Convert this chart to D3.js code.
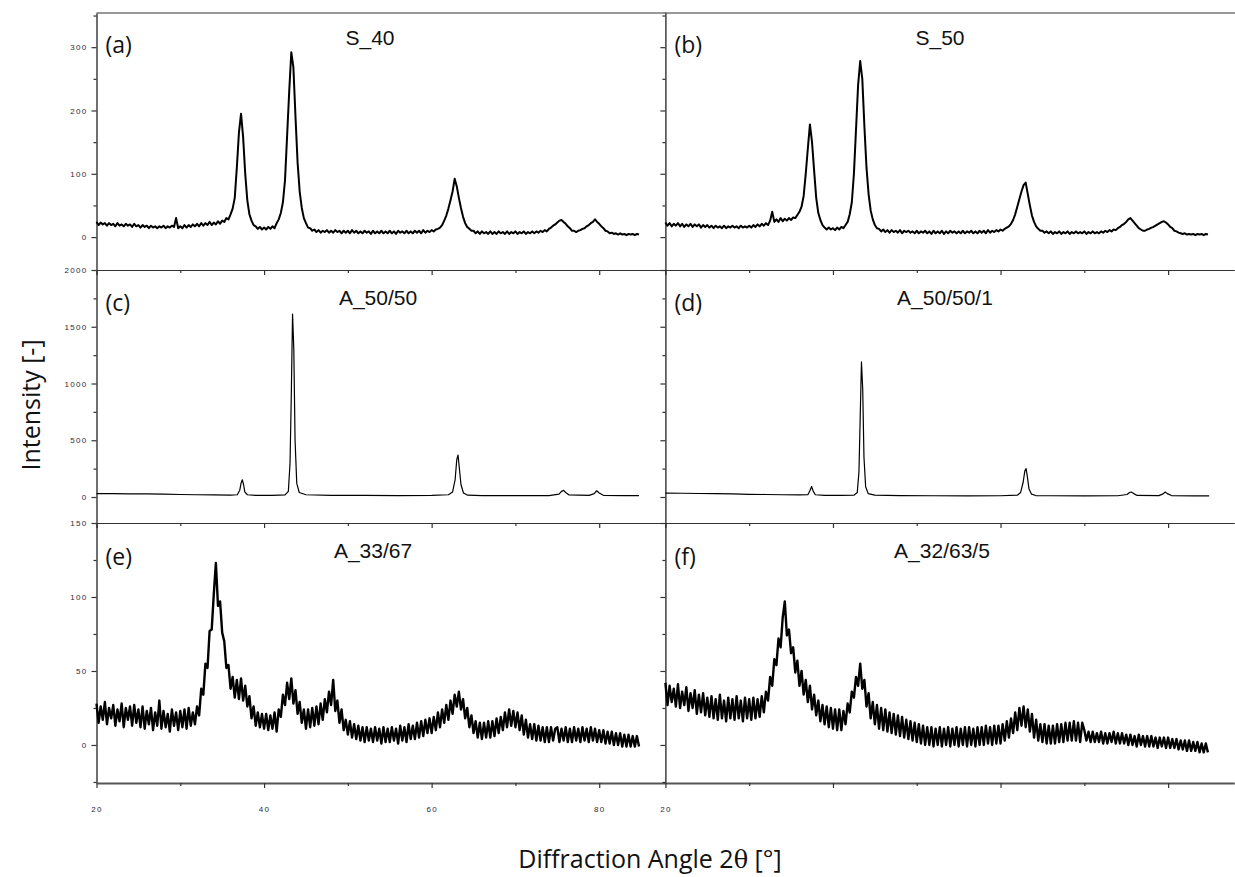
<!DOCTYPE html>
<html><head><meta charset="utf-8">
<script src="https://cdn.jsdelivr.net/npm/d3@7"></script>
<style>body{margin:0;background:#fff}</style>
</head><body><svg id="c" width="1235" height="877"></svg>
<script>
// ---------- data ----------
// uniform sampling of the noisy patterns: 20.00, 20.25, ... 84.75 deg
const angleStart = 20, angleStep = 0.25;

const S_40 = [
24,19,23,20,22,18,22,19,21,17,22,18,20,17,21,18,20,16,21,17,
19,15,19,16,18,14,18,15,17,14,17,15,18,14,17,15,18,16,30,14,
17,14,19,15,19,16,20,17,21,17,22,18,22,19,24,19,23,20,25,21,
26,24,30,28,36,45,62,110,165,195,158,100,58,36,26,19,17,13,16,12,
15,12,16,13,17,14,22,28,38,55,90,160,230,292,268,190,118,72,46,30,
22,15,14,10,12,8,11,7,10,8,11,7,10,7,11,8,10,6,10,7,
10,6,11,7,10,6,9,6,10,7,9,5,10,6,9,6,10,6,9,6,
10,6,9,5,10,7,9,6,10,6,9,6,10,7,10,6,11,7,10,8,
11,9,12,13,15,19,26,34,45,58,72,92,80,62,46,32,22,16,13,10,
10,6,9,5,9,6,8,5,9,5,8,5,9,6,8,5,9,5,8,6,
9,5,8,6,9,5,8,6,9,6,9,7,10,8,11,9,13,15,18,20,
23,26,27,24,21,17,14,10,10,8,10,11,13,14,17,19,22,24,28,24,
21,17,14,10,9,6,7,5,6,4,6,4,5,3,5,4,5,3,5,4];

const S_50 = [
23,18,22,17,21,18,22,17,21,16,20,17,21,16,20,17,20,15,19,16,
19,15,18,14,18,15,17,14,18,14,17,15,18,15,17,14,18,15,17,15,
18,15,19,16,20,17,21,18,22,19,26,40,24,28,24,30,25,29,26,30,
27,31,30,35,40,48,65,100,140,178,150,105,62,38,27,19,15,12,15,12,
14,11,15,12,16,14,19,24,36,55,100,170,240,278,250,175,110,68,42,28,
19,14,13,9,12,8,11,7,11,8,10,7,11,6,10,8,10,7,9,6,
10,6,9,7,10,6,9,5,10,6,9,6,10,5,9,6,10,7,9,6,
9,6,10,6,9,7,10,6,9,6,10,7,10,6,11,7,10,8,11,9,
12,10,13,15,17,21,27,36,48,60,72,82,86,68,50,34,24,17,13,10,
10,7,9,6,9,5,8,6,9,5,8,6,9,5,8,6,9,6,8,6,
9,5,8,6,9,6,8,6,9,7,10,8,11,9,12,11,14,16,19,21,
24,28,30,26,22,18,14,12,10,10,12,13,15,16,18,20,22,24,25,23,
20,16,14,10,9,7,6,5,6,4,5,4,5,3,5,4,5,3,5,4];

const A_33_67 = [
28,15,26,17,29,14,25,18,27,13,24,16,28,12,25,17,26,13,27,15,
24,12,26,11,23,14,25,10,22,13,30,11,23,12,21,9,24,13,22,10,
23,12,24,11,25,13,22,14,26,20,38,34,55,52,77,78,102,123,94,97,
76,70,52,54,38,46,32,44,31,45,30,40,26,33,18,26,13,22,12,21,
11,21,10,20,11,22,9,24,19,34,27,42,31,45,28,37,21,29,15,24,
11,24,12,25,13,26,14,28,17,31,22,36,27,44,23,30,15,24,10,17,
7,16,5,14,4,13,3,12,2,12,3,11,2,12,3,11,1,12,2,11,
2,12,3,11,1,13,3,12,2,14,4,13,4,15,5,16,6,17,8,18,
8,19,10,22,12,24,15,27,17,30,21,34,26,36,24,31,18,25,12,20,
8,16,5,15,4,15,5,16,5,16,6,18,8,19,10,22,12,24,13,23,
12,22,10,20,7,17,5,14,4,14,3,13,3,12,2,12,2,12,3,11,
12,2,11,3,12,2,11,2,12,3,11,2,12,3,11,2,12,3,11,2,
10,2,10,1,9,1,9,0,8,0,8,-1,7,-1,7,-1,6,-1,6,-1];

const A_32_63_5 = [
42,27,40,29,38,26,41,25,36,27,39,23,35,25,37,21,34,22,35,20,
32,19,33,18,31,17,34,18,30,16,32,18,31,17,33,18,30,16,32,18,
31,17,32,18,31,19,33,22,36,30,46,40,58,54,72,66,86,97,74,78,
62,66,49,57,40,50,34,44,29,40,24,34,20,30,16,27,14,26,12,25,
11,24,10,24,10,23,14,28,22,36,32,46,40,55,38,44,26,35,18,29,
14,27,11,25,10,24,9,22,8,21,7,20,6,19,5,17,4,16,3,15,
2,14,1,13,0,12,0,12,-1,11,0,12,-1,11,0,12,-1,11,0,12,
-1,11,0,12,-1,12,0,11,-1,12,0,12,0,13,1,12,0,13,1,13,
1,14,3,16,5,18,8,22,10,25,13,26,12,24,9,21,5,17,3,14,
2,14,1,13,1,13,1,14,2,14,2,15,3,15,3,16,3,15,2,15,
10,3,9,2,9,2,8,2,9,1,8,1,8,2,9,1,8,1,8,1,
7,0,7,0,6,-1,7,0,6,-1,6,-1,6,-1,5,-2,5,-1,5,-2,
5,-2,4,-2,4,-3,3,-3,3,-4,3,-4,2,-4,2,-5,1,-5,1,-5];

// sharp-peak patterns, sampled at the angles where the shape changes
const A_50_50_angles = [20,22,24,26,28,30,32,34,36,36.8,37.1,37.25,37.4,37.55,37.7,38,39,41,42.5,42.9,43.1,43.25,43.4,43.55,43.7,43.9,44.2,45,48,52,56,60,62,62.5,62.8,63,63.15,63.3,63.5,63.8,64.3,66,70,74,75.2,75.5,75.75,76,76.4,78.8,79.4,79.7,80,80.5,83,84.75];
const A_50_50 = [30,30,28,27,25,22,20,18,17,20,60,120,152,110,45,20,15,15,18,50,300,900,1612,1300,500,120,40,20,14,14,13,14,20,45,150,330,370,260,110,35,16,13,12,13,25,50,58,40,18,14,30,55,35,15,12,12];

const A_50_50_1_angles = [20,22,24,26,28,30,32,34,36,37,37.25,37.45,37.65,37.9,39,41,42.5,42.9,43.1,43.25,43.4,43.55,43.7,43.9,44.2,45,48,52,56,60,62,62.4,62.7,62.9,63.05,63.2,63.4,63.7,64.2,66,70,74,75.1,75.4,75.6,75.9,76.3,78.9,79.4,79.65,79.9,80.4,83,84.9];
const A_50_50_1 = [35,33,31,29,27,24,22,20,18,20,55,92,50,20,14,14,16,40,220,700,1190,950,350,90,30,16,12,11,10,11,16,40,130,230,250,180,70,25,13,11,10,11,22,40,44,30,14,12,28,44,30,13,10,10];

const panelLetters = ["(a)","(b)","(c)","(d)","(e)","(f)"];
const panelTitles  = ["S_40","S_50","A_50/50","A_50/50/1","A_33/67","A_32/63/5"];
const yMajorTicks = [[0,100,200,300],[0,500,1000,1500,2000],[0,50,100,150]];
const yMinorTicks = [[50,150,250,350],[250,750,1250,1750],[-25,25,75,125]];
const xMajorTicks = [20,40,60,80];
const xMinorTicks = [30,50,70];
const xLabel = "Diffraction Angle 2";
const yLabel = "Intensity [-]";

// ---------- layout ----------
const svg = d3.select("#c");
const colX = [96.5, 665.4];
const panelW = 568.9;
const rowTop = [13, 270, 523];
const rowBot = [270, 523, 783];
const yDomains = [[-52, 354], [-229, 2000], [-25.7, 150]];
const xDomain = [20, 87.9];

function uniform(vals){ return vals.map((v,i)=>[angleStart + i*angleStep, v]); }
function paired(a, v){ return a.map((x,i)=>[x, v[i]]); }
const series = [
  uniform(S_40), uniform(S_50),
  paired(A_50_50_angles, A_50_50), paired(A_50_50_1_angles, A_50_50_1),
  uniform(A_33_67), uniform(A_32_63_5)
];
const strokeW = [2.0,2.0,1.2,1.2,2.4,2.4];

const tickFont = "Liberation Sans, Arial, sans-serif";

for (let r = 0; r < 3; r++) {
  for (let c = 0; c < 2; c++) {
    const k = r*2 + c;
    const h = rowBot[r] - rowTop[r];
    const g = svg.append("g").attr("transform", `translate(${colX[c]},${rowTop[r]})`);
    const x = d3.scaleLinear().domain(xDomain).range([0, panelW]);
    const y = d3.scaleLinear().domain(yDomains[r]).range([h, 0]);

    const yMaj = g.append("g").call(d3.axisLeft(y).tickValues(yMajorTicks[r]).tickSize(5).tickSizeOuter(0).tickPadding(4)
      .tickFormat(c === 0 ? d3.format("d") : () => ""));
    const yMin = g.append("g").call(d3.axisLeft(y).tickValues(yMinorTicks[r].filter(v => v > yDomains[r][0] && v < yDomains[r][1])).tickSize(3).tickSizeOuter(0).tickFormat(() => ""));
    yMin.select(".domain").remove();
    yMaj.select(".domain").attr("stroke", "#222").attr("stroke-width", 1.3);

    const xAx = g.append("g").attr("transform", `translate(0,${h})`)
      .call(d3.axisBottom(x).tickValues(xMajorTicks).tickSize(5).tickSizeOuter(0).tickPadding(18)
        .tickFormat(v => (r === 2 && (c === 0 || v === 20)) ? String(v) : ""));
    const xMin = g.append("g").attr("transform", `translate(0,${h})`)
      .call(d3.axisBottom(x).tickValues(xMinorTicks).tickSize(3).tickSizeOuter(0).tickFormat(() => ""));
    xMin.select(".domain").remove();
    xAx.select(".domain").attr("stroke", r === 2 ? "#555" : "#333").attr("stroke-width", r === 2 ? 2.2 : 1.2);

    g.selectAll(".tick line").attr("stroke", "#333").attr("stroke-width", 1.2);
    g.selectAll(".tick text").attr("font-family", tickFont).attr("font-size", 8)
      .attr("letter-spacing", "1.3px").attr("fill", "#2a2a3a");

    if (r === 0) {
      g.append("line").attr("x1", 0).attr("x2", panelW + 1).attr("y1", 0).attr("y2", 0)
        .attr("stroke", "#333").attr("stroke-width", 1.2);
    }

    const line = d3.line().x(d => x(d[0])).y(d => y(d[1]));
    g.append("path").datum(series[k]).attr("d", line)
      .attr("fill", "none").attr("stroke", "#000").attr("stroke-width", strokeW[k])
      .attr("stroke-linejoin", "round");

    const letterY = [53, 311, 565][r];
    const titleY = [45, 305, 558][r];
    g.append("text").attr("x", 9).attr("y", letterY - rowTop[r])
      .attr("font-family", "Open Sans, Noto Sans, sans-serif").attr("font-size", 23)
      .attr("fill", "#111").text(panelLetters[k]);
    const titleCx = [[370, 940], [378, 945], [373, 942]][r][c];
    g.append("text").attr("x", titleCx - colX[c]).attr("y", titleY - rowTop[r])
      .attr("text-anchor", "middle")
      .attr("font-family", "Liberation Sans, Arial, sans-serif").attr("font-size", 21)
      .attr("fill", "#111").text(panelTitles[k]);
  }
}

svg.append("text").attr("transform", "translate(40,405) rotate(-90)")
  .attr("text-anchor", "middle").attr("font-family", "Open Sans, Noto Sans, sans-serif")
  .attr("font-size", 25).attr("fill", "#111").text(yLabel);
const xt = svg.append("text").attr("x", 650).attr("y", 868).attr("text-anchor", "middle")
  .attr("font-family", "Open Sans, Noto Sans, sans-serif").attr("font-size", 25).attr("fill", "#111");
xt.append("tspan").text(xLabel);
xt.append("tspan").attr("font-family", "DejaVu Serif, serif").attr("font-size", 24).text("θ");
xt.append("tspan").text(" [°]");
</script>
</body></html>
